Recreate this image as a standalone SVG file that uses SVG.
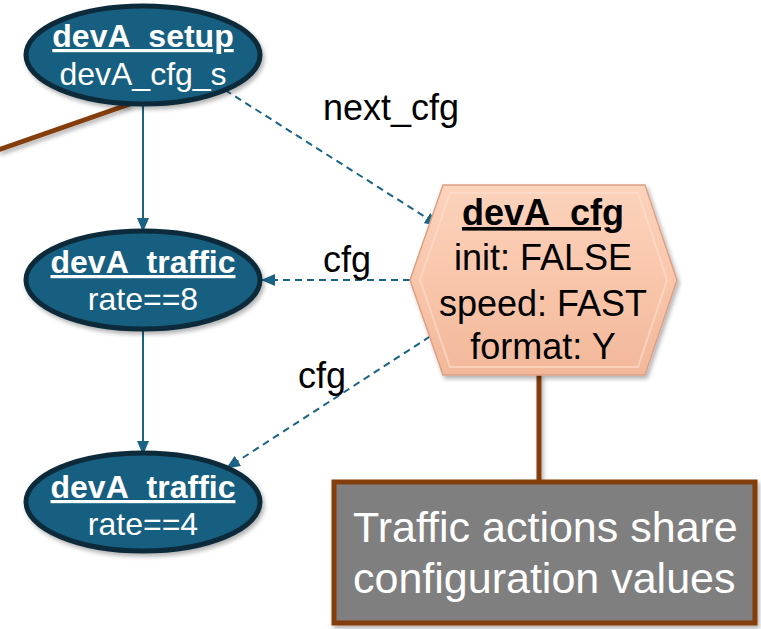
<svg xmlns="http://www.w3.org/2000/svg" width="761" height="629" viewBox="0 0 761 629">
  <defs>
    <marker id="arrow" viewBox="0 0 14 12" refX="13" refY="6" markerWidth="14" markerHeight="12" markerUnits="userSpaceOnUse" orient="auto">
      <path d="M0,0 L14,6 L0,12 Z" fill="#1A6385"/>
    </marker>
    <filter id="shadow" x="-10%" y="-10%" width="125%" height="130%">
      <feDropShadow dx="2" dy="3" stdDeviation="2" flood-color="#000" flood-opacity="0.3"/>
    </filter>
    <linearGradient id="hexFill" x1="0" y1="0" x2="0" y2="1">
      <stop offset="0" stop-color="#FCD3BC"/>
      <stop offset="0.5" stop-color="#F9C6AB"/>
      <stop offset="1" stop-color="#F2B89A"/>
    </linearGradient>
  </defs>
  <style>
    .state { fill: #185F80; stroke: #0D2B3B; stroke-width: 5; }
    .title { font-family: "Liberation Sans", Arial, sans-serif; font-weight: bold; font-size: 32px; fill: #fff; text-anchor: middle; text-decoration: underline; }
    .sub { font-family: "Liberation Sans", Arial, sans-serif; font-size: 32px; fill: #fff; text-anchor: middle; }
    .hexTitle { font-family: "Liberation Sans", Arial, sans-serif; font-weight: bold; font-size: 36px; fill: #000; text-anchor: middle; text-decoration: underline; }
    .hexText { font-family: "Liberation Sans", Arial, sans-serif; font-size: 36px; fill: #000; text-anchor: middle; }
    .edge { fill: none; stroke: #1A6385; stroke-width: 2; marker-end: url(#arrow); }
    .dashed { stroke-dasharray: 7 5; }
    .label { font-family: "Liberation Sans", Arial, sans-serif; font-size: 36px; fill: #000; }
    .callout { stroke: #843C0C; stroke-width: 5; fill: none; }
    .note { font-family: "Liberation Sans", Arial, sans-serif; font-size: 43px; fill: #fff; }
  </style>

  <!-- callout leader lines -->
  <g id="leaders" filter="url(#shadow)">
    <line class="callout" x1="-2" y1="150" x2="130" y2="104"/>
    <line class="callout" x1="539" y1="374" x2="539" y2="482"/>
  </g>

  <!-- connectors -->
  <g id="connectors">
    <line class="edge" x1="143" y1="104" x2="143" y2="231"/>
    <line class="edge" x1="143" y1="330" x2="143" y2="454"/>
    <line class="edge dashed" x1="225" y1="90" x2="438" y2="225"/>
    <line class="edge dashed" x1="410" y1="280" x2="262" y2="280"/>
    <line class="edge dashed" x1="440" y1="330" x2="227" y2="468"/>
    <text class="label" x="323" y="120">next_cfg</text>
    <text class="label" x="323" y="272">cfg</text>
    <text class="label" x="298" y="388">cfg</text>
  </g>

  <g id="devA_setup">
    <ellipse class="state" cx="143" cy="55" rx="117" ry="49" filter="url(#shadow)"/>
    <text class="title" x="143" y="47">devA_setup</text>
    <text class="sub" x="143" y="85">devA_cfg_s</text>
  </g>

  <g id="devA_traffic_8">
    <ellipse class="state" cx="143" cy="280" rx="117" ry="49" filter="url(#shadow)"/>
    <text class="title" x="143" y="273">devA_traffic</text>
    <text class="sub" x="143" y="310">rate==8</text>
  </g>

  <g id="devA_traffic_4">
    <ellipse class="state" cx="143" cy="502" rx="117" ry="49" filter="url(#shadow)"/>
    <text class="title" x="143" y="498">devA_traffic</text>
    <text class="sub" x="143" y="535">rate==4</text>
  </g>

  <g id="devA_cfg">
    <polygon points="410,280 443,185 645,185 677,280 645,375 443,375" fill="url(#hexFill)" stroke="#DDA084" stroke-width="1.5" filter="url(#shadow)"/>
    <polygon points="420,280 450,193 638,193 667,280 638,367 450,367" fill="none" stroke="#FDE0D0" stroke-width="2" opacity="0.6"/>
    <text class="hexTitle" x="543" y="225">devA_cfg</text>
    <text class="hexText" x="543" y="270">init: FALSE</text>
    <text class="hexText" x="543" y="316">speed: FAST</text>
    <text class="hexText" x="543" y="359">format: Y</text>
  </g>

  <g id="note">
    <rect x="334" y="482" width="421" height="141" fill="#7F7F7F" stroke="#843C0C" stroke-width="5" filter="url(#shadow)"/>
    <text class="note" x="353" y="542">Traffic actions share</text>
    <text class="note" x="353" y="593">configuration values</text>
  </g>
</svg>
